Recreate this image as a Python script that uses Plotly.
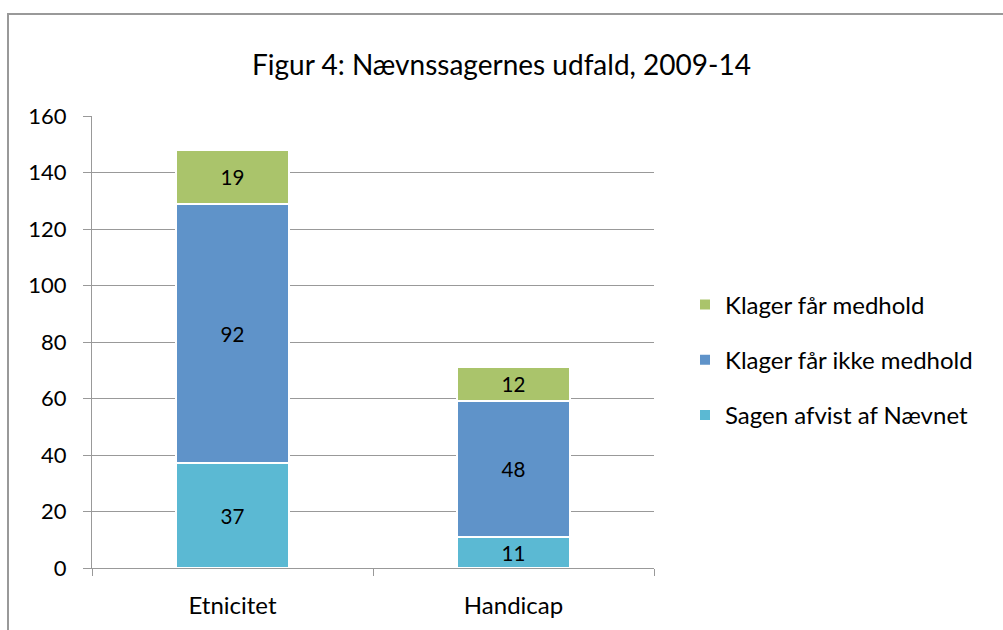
import plotly.graph_objects as go

categories = ["Etnicitet", "Handicap"]
afvist = [37, 11]
ikke_medhold = [92, 48]
medhold = [19, 12]
series_names = ["Sagen afvist af Nævnet", "Klager får ikke medhold", "Klager får medhold"]
series_values = [afvist, ikke_medhold, medhold]
series_colors = ["#5BB9D3", "#5F93C9", "#AAC46B"]
legend_ranks = [3, 2, 1]
y_ticks = [0, 20, 40, 60, 80, 100, 120, 140, 160]

FONT = "Lato"

fig = go.Figure()
for name, vals, col, rank in zip(series_names, series_values, series_colors, legend_ranks):
    fig.add_trace(go.Bar(
        x=categories, y=vals, name=name,
        marker=dict(color=col, line=dict(color="white", width=2)),
        text=[str(v) for v in vals], textposition="inside",
        insidetextanchor="middle", textangle=0,
        textfont=dict(size=23, color="black", family=FONT),
        legendgroup=name, legendrank=rank,
    ))

fig.update_layout(
    width=1003, height=630,
    barmode="stack", bargap=0.6,
    plot_bgcolor="white", paper_bgcolor="white",
    margin=dict(l=92, r=349, t=116, b=62),
    font=dict(family=FONT, size=22, color="black"),
    title=dict(text="Figur 4: Nævnssagernes udfald, 2009-14", x=0.5, xanchor="center",
               y=1 - 65 / 630, yanchor="middle", font=dict(size=28, family=FONT, color="black")),
    showlegend=True,
    legend=dict(x=(685 - 92) / 562, xanchor="left", y=(568 - 360) / 452, yanchor="middle",
                traceorder="grouped", tracegroupgap=21,
                font=dict(size=24, family=FONT, color="black"),
                itemwidth=30, bgcolor="rgba(0,0,0,0)"),
    uniformtext=dict(minsize=20, mode="show"),
)
fig.update_yaxes(range=[0, 160], tickvals=y_ticks, showgrid=True, gridcolor="#999999", gridwidth=1.3,
                 showline=True, linecolor="#999999", linewidth=1.3, ticks="outside", ticklen=8,
                 tickcolor="#999999", zeroline=False, ticklabelstandoff=12,
                 tickfont=dict(size=22, family=FONT))
fig.update_xaxes(showline=True, linecolor="#999999", linewidth=1.3, ticks="outside", ticklen=7,
                 tickcolor="#999999", tickson="boundaries", ticklabelstandoff=16,
                 tickfont=dict(size=24, family=FONT))

# chart border
fig.add_shape(type="rect", xref="paper", yref="paper",
              x0=(8 - 92) / 562, x1=(1012 - 92) / 562,
              y0=(568 - 640) / 452, y1=(568 - 14) / 452,
              line=dict(color="#999999", width=2), fillcolor="rgba(0,0,0,0)", layer="below")

fig.write_html("out.html", config={"displayModeBar": False},
               post_script="document.body.style.margin='0px';document.body.style.padding='0px';")
